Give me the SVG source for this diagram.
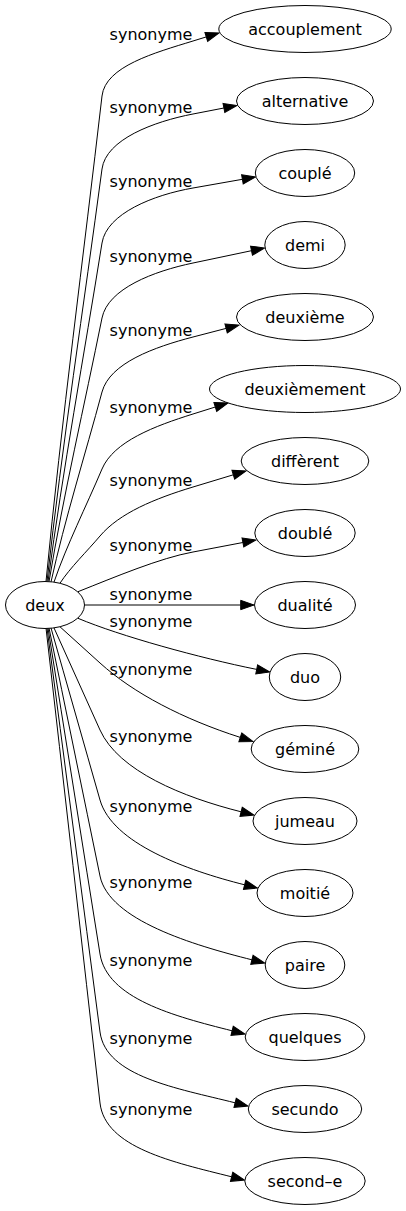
<svg xmlns="http://www.w3.org/2000/svg" width="406" height="1211" viewBox="0 0 406 1211">
<style>
.node ellipse{fill:#ffffff;stroke:#000000;stroke-width:1}
.node text{font-family:"DejaVu Sans","Liberation Sans",sans-serif;font-size:16px;fill:#000000;text-anchor:middle}
.edge path{fill:none;stroke:#000000;stroke-width:1;marker-end:url(#arrow)}
.edge text{font-family:"DejaVu Sans","Liberation Sans",sans-serif;font-size:16px;fill:#000000;text-anchor:middle}
</style>
<defs>
<marker id="arrow" markerUnits="userSpaceOnUse" markerWidth="16" markerHeight="12" refX="0" refY="4.67" orient="auto" overflow="visible">
<path d="M0,0 L13.3,4.67 L0,9.33 Z" fill="#000000" stroke="#000000" stroke-width="1"/>
</marker>
</defs>
<rect width="406" height="1211" fill="#ffffff"/>
<g id="connectors">
<g class="edge" id="e1"><path d="M46,581.5 C61.5,421.3 83.5,256.2 102,96 C105.4,66.2 154.8,52.8 193,41 L206.3,36.9"/><text x="151" y="40">synonyme</text></g>
<g class="edge" id="e2"><path d="M47,581.5 C62.2,445.4 83.9,305.1 102,169 C106,139.3 153.7,121.6 193,114 L223.9,108"/><text x="151" y="113">synonyme</text></g>
<g class="edge" id="e3"><path d="M48,581.6 C62.8,469.9 84.2,354.7 102,243 C106.7,213.4 153.6,194.9 193,188 L242.4,179.3"/><text x="151" y="187">synonyme</text></g>
<g class="edge" id="e4"><path d="M49,581.7 C63.5,494.7 84.5,405 102,318 C107.9,288.6 153.8,271.2 193,263 L251.5,250.7"/><text x="151" y="262">synonyme</text></g>
<g class="edge" id="e5"><path d="M51,581.9 C64.8,519.2 85.2,454.7 102,392 C109.8,363 154.3,347.1 193,337 L226.1,328.4"/><text x="151" y="336">synonyme</text></g>
<g class="edge" id="e6"><path d="M54,582.1 C66.8,544.8 86.2,506.3 102,469 C113.7,441.4 154.8,426 193,414 L215.3,407"/><text x="151" y="413">synonyme</text></g>
<g class="edge" id="e7"><path d="M60,583.2 C70.2,567.6 86.8,551.6 100,536 C119.4,513.1 154.7,498.6 193,487 L233.3,474.8"/><text x="151" y="486">synonyme</text></g>
<g class="edge" id="e8"><path d="M78,591.7 C115,577 160,558 193,552 L242.9,542.5"/><text x="151" y="551">synonyme</text></g>
<g class="edge" id="e9"><path d="M85,605 L240.7,605"/><text x="151" y="600">synonyme</text></g>
<g class="edge" id="e10"><path d="M78,618.3 C120,636 200,658 256.7,669.4"/><text x="151" y="627">synonyme</text></g>
<g class="edge" id="e11"><path d="M60,626.8 C73.2,638.7 86.8,651.1 100,663 C133.4,693.2 183.2,719.1 240.3,737.4"/><text x="151" y="675">synonyme</text></g>
<g class="edge" id="e12"><path d="M54,627.9 C69.2,661.6 84.8,696.3 100,730 C118.5,771 182.9,797.2 241.1,811.8"/><text x="151" y="742">synonyme</text></g>
<g class="edge" id="e13"><path d="M51,628 C67.2,684.8 83.8,743.2 100,800 C112.3,843.3 186.4,870.2 244.6,884.8"/><text x="151" y="812">synonyme</text></g>
<g class="edge" id="e14"><path d="M49,628 C65.8,709.8 83.2,794.2 100,876 C109,920.1 193.7,945.2 251.9,959.8"/><text x="151" y="888">synonyme</text></g>
<g class="edge" id="e15"><path d="M48,628 C65.2,735.6 82.8,846.4 100,954 C107.1,998.5 173.9,1016.2 232.1,1030.8"/><text x="151" y="966">synonyme</text></g>
<g class="edge" id="e16"><path d="M47,628 C64.5,761.3 82.5,898.7 100,1032 C105.9,1076.6 176.9,1088.2 235.1,1102.8"/><text x="151" y="1044">synonyme</text></g>
<g class="edge" id="e17"><path d="M46,628 C63.8,784.8 82.2,946.3 100,1103 C105.1,1147.7 173.4,1162.2 231.6,1176.8"/><text x="151" y="1115">synonyme</text></g>
</g>
<g class="node" id="deux"><ellipse cx="45" cy="605" rx="39.5" ry="23.5"/><text x="45" y="610.5">deux</text></g>
<g class="node" id="accouplement"><ellipse cx="305" cy="29" rx="86.2" ry="23.5"/><text x="305" y="34.5">accouplement</text></g>
<g class="node" id="alternative"><ellipse cx="305" cy="101" rx="68.5" ry="23.5"/><text x="305" y="106.5">alternative</text></g>
<g class="node" id="couple"><ellipse cx="305" cy="173" rx="49.7" ry="23.5"/><text x="305" y="178.5">couplé</text></g>
<g class="node" id="demi"><ellipse cx="305" cy="245" rx="40.2" ry="23.5"/><text x="305" y="250.5">demi</text></g>
<g class="node" id="deuxieme"><ellipse cx="305" cy="317" rx="68.5" ry="23.5"/><text x="305" y="322.5">deuxième</text></g>
<g class="node" id="deuxiemement"><ellipse cx="305" cy="389" rx="95.5" ry="23.5"/><text x="305" y="394.5">deuxièmement</text></g>
<g class="node" id="different"><ellipse cx="305" cy="461" rx="63.8" ry="23.5"/><text x="305" y="466.5">diffèrent</text></g>
<g class="node" id="double"><ellipse cx="305" cy="533" rx="50.2" ry="23.5"/><text x="305" y="538.5">doublé</text></g>
<g class="node" id="dualite"><ellipse cx="305" cy="605" rx="50.5" ry="23.5"/><text x="305" y="610.5">dualité</text></g>
<g class="node" id="duo"><ellipse cx="305" cy="677" rx="35.7" ry="23.5"/><text x="305" y="682.5">duo</text></g>
<g class="node" id="gemine"><ellipse cx="305" cy="749" rx="53.8" ry="23.5"/><text x="305" y="754.5">géminé</text></g>
<g class="node" id="jumeau"><ellipse cx="305" cy="821" rx="52" ry="23.5"/><text x="305" y="826.5">jumeau</text></g>
<g class="node" id="moitie"><ellipse cx="305" cy="893" rx="48" ry="23.5"/><text x="305" y="898.5">moitié</text></g>
<g class="node" id="paire"><ellipse cx="305" cy="965" rx="39.8" ry="23.5"/><text x="305" y="970.5">paire</text></g>
<g class="node" id="quelques"><ellipse cx="305" cy="1037" rx="59.8" ry="23.5"/><text x="305" y="1042.5">quelques</text></g>
<g class="node" id="secundo"><ellipse cx="305" cy="1109" rx="56.7" ry="23.5"/><text x="305" y="1114.5">secundo</text></g>
<g class="node" id="second-e"><ellipse cx="305" cy="1181" rx="60.2" ry="23.5"/><text x="305" y="1186.5">second–e</text></g>
</svg>
